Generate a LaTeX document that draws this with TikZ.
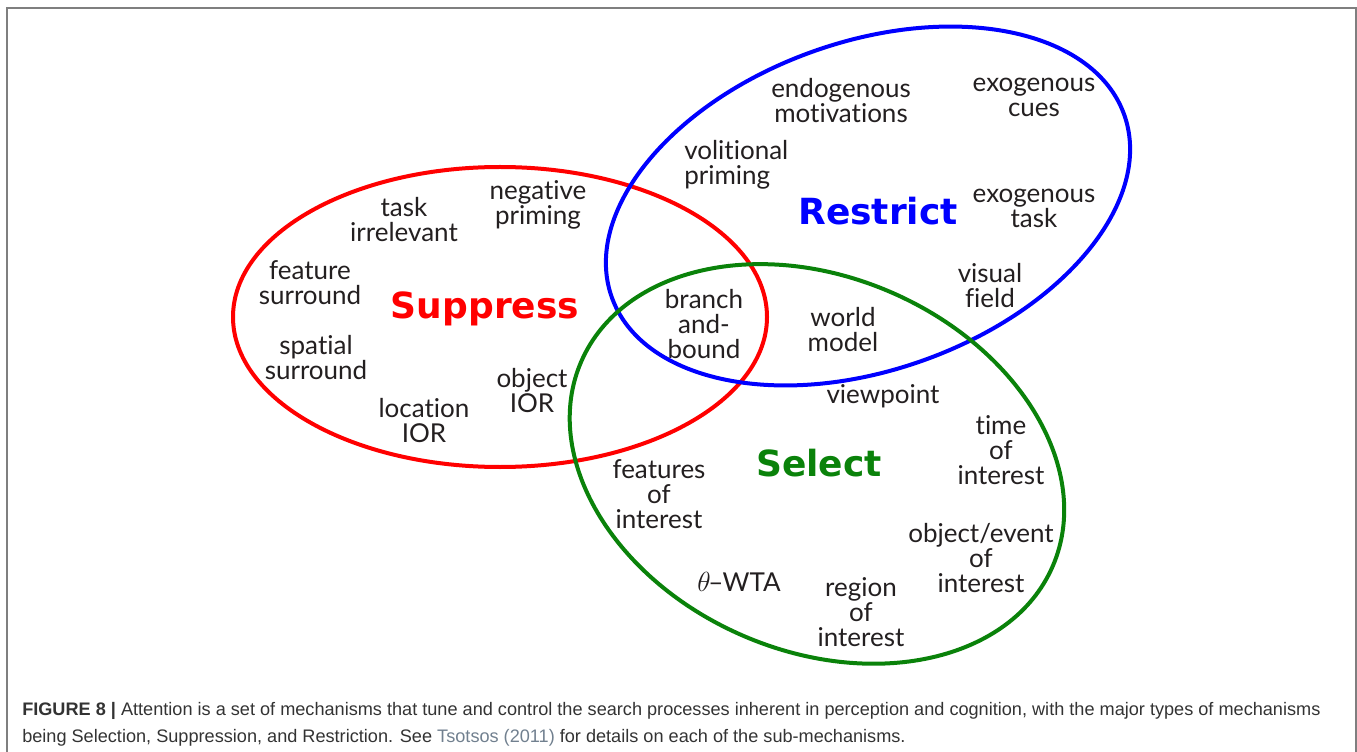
\documentclass[tikz,border=0pt]{standalone}
\usepackage{fontspec}
\setmainfont{Lato}[Ligatures=NoCommon]
\newfontfamily\corefont{DejaVu Sans}
\newfontfamily\capfont{Liberation Sans}
\definecolor{vennRed}{HTML}{FF0000}
\definecolor{vennBlue}{HTML}{0000FF}
\definecolor{vennGreen}{HTML}{0A820A}
\definecolor{vennInk}{HTML}{231F20}
\definecolor{capInk}{HTML}{333333}
\definecolor{capLink}{HTML}{71808F}
\definecolor{frameGray}{HTML}{7F7F7F}

\begin{document}
\begin{tikzpicture}[
  x=0.75pt,y=-0.75pt,
  item/.style={align=center,text=vennInk,inner sep=0pt,font=\fontsize{19.5}{18.75}\selectfont},
  core/.style={inner sep=0pt,font=\corefont\bfseries\fontsize{27}{30}\selectfont},
  ring/.style={line width=3pt},
  caption/.style={anchor=base west,inner sep=0pt,text=capInk,font=\capfont\fontsize{13.6}{15}\selectfont}
]
\useasboundingbox (0,0) rectangle (1357,752);
\draw[frameGray,line width=1.2pt] (7,8) rectangle (1356,780);

% the three mechanisms
\coordinate (cSup) at (500,317);
\coordinate (cRes) at (868,206);
\coordinate (cSel) at (817,464);
\draw[ring,vennRed] (cSup) ellipse [x radius=267,y radius=150];
\draw[ring,vennBlue,rotate around={19.6:(cRes)}] (cRes) ellipse [x radius=272,y radius=164];
\draw[ring,vennGreen,rotate around={-23.5:(cSel)}] (cSel) ellipse [x radius=257,y radius=187];

\node[core,text=vennRed] (suppress) at (485,309) {Suppress};
\node[core,text=vennBlue] (restrict) at (878,211) {Restrict};
\node[core,text=vennGreen] (select) at (819,463) {Select};

% suppress
\node[item] (taskirr) at (404,220) {task\\irrelevant};
\node[item] (negprim) at (538,205) {negative\\priming};
\node[item] (featsur) at (310,283) {feature\\surround};
\node[item] (spatsur) at (316,358) {spatial\\surround};
\node[item] (locior) at (424,421) {location\\IOR};
\node[item] (objior) at (532,391) {object\\IOR};

% restrict
\node[item] (endomot) at (841,101) {endogenous\\motivations};
\node[item] (exocue) at (1034,97) {exogenous\\cues};
\node[item,align=left,anchor=west] (volprim) at (684,165) {volitional\\priming};
\node[item] (exotask) at (1034,208) {exogenous\\task};
\node[item] (visfield) at (990,286) {visual\\field};

% overlaps
\node[item] (branch) at (704,324) {branch\\and-\\bound};
\node[item] (world) at (843,330) {world\\model};

% select
\node[item] (viewpt) at (883,396) {viewpoint};
\node[item] (timeint) at (1001,450) {time\\of\\interest};
\node[item] (featint) at (659,494) {features\\of\\interest};
\node[item] (objint) at (981,558) {object/event\\of\\interest};
\node[item] (wta) at (739,582) {$\theta$\kern-1.8pt--\kern-0.5pt WTA};
\node[item] (regint) at (861,612) {region\\of\\interest};

% caption
\node[caption] (cap1) at (22,715) {\textbf{FIGURE 8 |} Attention is a set of mechanisms that tune and control the search processes inherent in perception and cognition, with the major types of mechanisms};
\node[caption] (cap2) at (22,742) {being Selection, Suppression, and Restriction. See {\color{capLink}Tsotsos (2011)} for details on each of the sub-mechanisms.};
\end{tikzpicture}
\end{document}
